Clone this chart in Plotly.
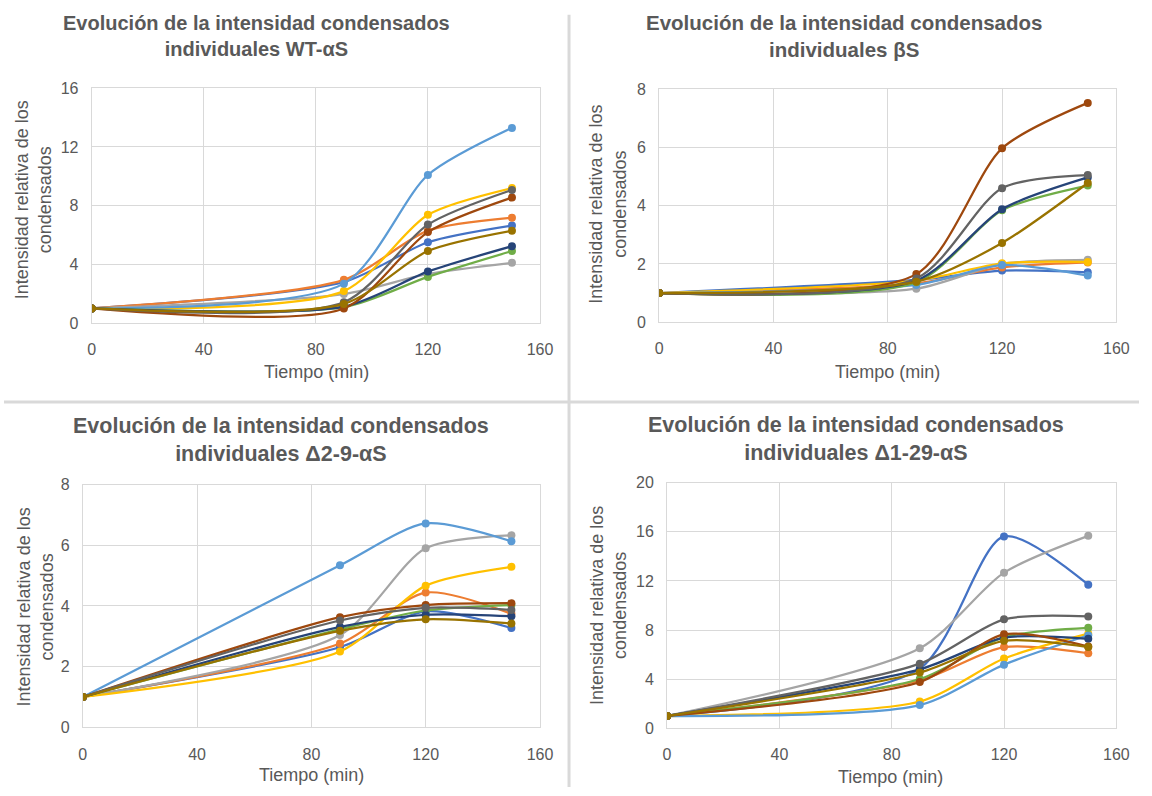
import plotly.graph_objects as go

W, H = 1152, 796

times = [0, 90, 120, 150]

series_names = ["Serie 1", "Serie 2", "Serie 3", "Serie 4", "Serie 5",
                "Serie 6", "Serie 7", "Serie 8", "Serie 9", "Serie 10"]
colors = ["#4472C4", "#ED7D31", "#A5A5A5", "#FFC000", "#5B9BD5",
          "#70AD47", "#264478", "#9E480E", "#636363", "#997300"]

# Panel 1: WT-aS
wt_blue = [1, 2.80, 5.51, 6.65]
wt_orange = [1, 2.95, 6.30, 7.18]
wt_gray = [1, 1.98, 3.35, 4.11]
wt_yellow = [1, 2.18, 7.38, 9.20]
wt_lightblue = [1, 2.69, 10.09, 13.30]
wt_green = [1, 1.09, 3.15, 4.91]
wt_navy = [1, 1.13, 3.51, 5.24]
wt_brown = [1, 1.00, 6.20, 8.55]
wt_darkgray = [1, 1.42, 6.71, 9.07]
wt_olive = [1, 1.31, 4.91, 6.29]

# Panel 2: bS
b_blue = [1, 1.45, 1.77, 1.71]
b_orange = [1, 1.33, 1.88, 2.05]
b_gray = [1, 1.15, 2.00, 2.14]
b_yellow = [1, 1.43, 2.02, 2.07]
b_lightblue = [1, 1.28, 1.96, 1.60]
b_green = [1, 1.37, 3.84, 4.69]
b_navy = [1, 1.43, 3.88, 4.97]
b_brown = [1, 1.65, 5.97, 7.53]
b_darkgray = [1, 1.50, 4.60, 5.05]
b_olive = [1, 1.39, 2.72, 4.78]

# Panel 3: D2-9-aS
d29_blue = [1, 2.64, 3.82, 3.27]
d29_orange = [1, 2.76, 4.44, 3.74]
d29_gray = [1, 3.04, 5.90, 6.33]
d29_yellow = [1, 2.50, 4.67, 5.29]
d29_lightblue = [1, 5.34, 6.72, 6.13]
d29_green = [1, 3.23, 3.85, 4.03]
d29_navy = [1, 3.31, 3.71, 3.66]
d29_brown = [1, 3.63, 4.03, 4.09]
d29_darkgray = [1, 3.52, 3.94, 3.87]
d29_olive = [1, 3.18, 3.56, 3.42]

# Panel 4: D1-29-aS
d129_blue = [1, 4.86, 15.62, 11.69]
d129_orange = [1, 3.90, 6.61, 6.11]
d129_gray = [1, 6.51, 12.67, 15.67]
d129_yellow = [1, 2.18, 5.68, 7.70]
d129_lightblue = [1, 1.89, 5.18, 7.57]
d129_green = [1, 4.01, 7.42, 8.18]
d129_navy = [1, 4.80, 7.38, 7.28]
d129_brown = [1, 3.77, 7.65, 6.66]
d129_darkgray = [1, 5.26, 8.87, 9.11]
d129_olive = [1, 4.54, 7.12, 6.61]

panel_titles = [
    "Evolución de la intensidad condensados<br>individuales WT-αS",
    "Evolución de la intensidad condensados<br>individuales βS",
    "Evolución de la intensidad condensados<br>individuales Δ2-9-αS",
    "Evolución de la intensidad condensados<br>individuales Δ1-29-αS",
]
x_title = "Tiempo (min)"
y_title = "Intensidad relativa de los<br>condensados"

panels = [
    [wt_blue, wt_orange, wt_gray, wt_yellow, wt_lightblue, wt_green, wt_navy, wt_brown, wt_darkgray, wt_olive],
    [b_blue, b_orange, b_gray, b_yellow, b_lightblue, b_green, b_navy, b_brown, b_darkgray, b_olive],
    [d29_blue, d29_orange, d29_gray, d29_yellow, d29_lightblue, d29_green, d29_navy, d29_brown, d29_darkgray, d29_olive],
    [d129_blue, d129_orange, d129_gray, d129_yellow, d129_lightblue, d129_green, d129_navy, d129_brown, d129_darkgray, d129_olive],
]
y_max = [16, 8, 8, 20]
y_dtick = [4, 2, 2, 4]

# layout in pixels: (left, right, top, bottom)
boxes = [(89, 544, 82, 322), (665, 1129, 83, 321), (80, 544, 487, 735), (673, 1129, 485, 736)]
title_pos = [(256, 29, 20), (853, 29, 20.5), (281, 441, 21.5), (865, 440, 21.5)]
ytitle_pos = [(30, 196), (613, 200), (32, 612), (614, 610)]
xtitle_pos = [(317, 372), (897, 372), (312, 784), (900, 786)]

def px(x):
    return x / W

def py(y):
    return 1 - y / H

fig = go.Figure()
grid = "#D9D9D9"
txt = "#595959"
font_fam = "Liberation Sans, Arial, sans-serif"

for p in range(4):
    ax = "" if p == 0 else str(p + 1)
    for s in range(10):
        fig.add_trace(go.Scatter(
            x=times, y=panels[p][s], mode="lines+markers",
            name=series_names[s], showlegend=False,
            line=dict(color=colors[s], width=2.25, shape="spline", smoothing=0.75),
            marker=dict(color=colors[s], size=8),
            xaxis="x" + ax, yaxis="y" + ax,
        ))
    l, r, t, b = boxes[p]
    fig.layout["xaxis" + ax] = dict(
        domain=[px(l), px(r)], range=[0, 160], dtick=40, anchor="y" + ax,
        showgrid=True, gridcolor=grid, gridwidth=1, zeroline=False,
        showline=True, linecolor=grid, linewidth=1, mirror=True,
        tickfont=dict(size=16, color=txt, family=font_fam),
        ticks="", ticklabelstandoff=12, fixedrange=True,
    )
    fig.layout["yaxis" + ax] = dict(
        domain=[py(b), py(t)], range=[0, y_max[p]], dtick=y_dtick[p], anchor="x" + ax,
        showgrid=True, gridcolor=grid, gridwidth=1, zeroline=False,
        showline=True, linecolor=grid, linewidth=1, mirror=True,
        tickfont=dict(size=16, color=txt, family=font_fam),
        ticks="", ticklabelstandoff=9, fixedrange=True,
    )
    tx, ty, ts = title_pos[p]
    fig.add_annotation(text="<b>" + panel_titles[p] + "</b>", x=px(tx), y=py(ty),
                       xref="paper", yref="paper", showarrow=False,
                       xanchor="center", yanchor="middle",
                       font=dict(size=ts, color=txt, family=font_fam))
    yx, yy = ytitle_pos[p]
    fig.add_annotation(text=y_title, x=px(yx), y=py(yy), xref="paper", yref="paper",
                       showarrow=False, textangle=-90, xanchor="center", yanchor="middle",
                       font=dict(size=18, color=txt, family=font_fam))
    xx, xy = xtitle_pos[p]
    fig.add_annotation(text=x_title, x=px(xx), y=py(xy), xref="paper", yref="paper",
                       showarrow=False, xanchor="center", yanchor="middle",
                       font=dict(size=18, color=txt, family=font_fam))

# divider lines between the four charts
fig.add_shape(type="line", xref="paper", yref="paper", x0=px(573.5), x1=px(573.5),
              y0=py(7), y1=0, line=dict(color=grid, width=3))
fig.add_shape(type="line", xref="paper", yref="paper", x0=0, x1=1,
              y0=py(402.5), y1=py(402.5), line=dict(color=grid, width=3))

fig.update_layout(
    width=W, height=H, margin=dict(l=0, r=0, t=0, b=0),
    paper_bgcolor="white", plot_bgcolor="white", showlegend=False,
)

fig.write_html("out.html", config={"displayModeBar": False})
